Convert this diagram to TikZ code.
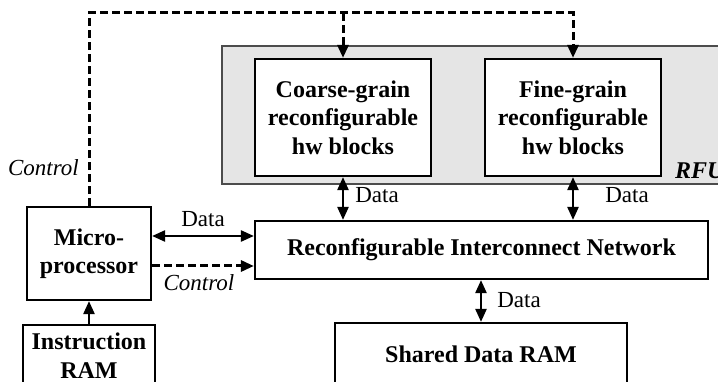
\documentclass[tikz,border=0pt]{standalone}
\usepackage{fontspec}
\setmainfont{Liberation Serif}
\usetikzlibrary{arrows.meta}
\begin{document}
\begin{tikzpicture}[x=1pt,y=-1pt,
 box/.style={draw, line width=2.2pt, fill=white, inner sep=0pt, align=center, font=\fontsize{24}{28.5}\selectfont\bfseries},
 lbl/.style={inner sep=0pt, font=\fontsize{23}{27}\selectfont},
 ilbl/.style={inner sep=0pt, font=\fontsize{23}{27}\selectfont\itshape},
 ctl/.style={line width=3pt, dash pattern=on 8pt off 4pt},
 dat/.style={line width=2.4pt},
 tip/.style={-{Triangle[length=13pt,width=11pt]}},
 tips/.style={{Triangle[length=13pt,width=11pt]}-{Triangle[length=13pt,width=11pt]}}
]
\useasboundingbox (0,0) rectangle (718,382);
\clip (0,0) rectangle (718,382);
\node[draw=black!70, fill=black!10, line width=1.4pt, minimum width=520pt, minimum height=138pt, inner sep=0pt] (rfu) at (482,115) {};
\node[anchor=base west, inner sep=0pt, font=\fontsize{24}{28.5}\selectfont\bfseries\itshape] (rfulbl) at (675,179) {RFU};

\node[box, minimum width=176pt, minimum height=117pt] (coarse) at (343,117.5) {Coarse-grain\\reconfigurable\\hw blocks};
\node[box, minimum width=176pt, minimum height=117pt] (fine) at (573,117.5) {Fine-grain\\reconfigurable\\hw blocks};
\node[box, minimum width=453pt, minimum height=58pt] (rin) at (481.5,250) {Reconfigurable Interconnect Network};
\node[box, minimum width=124pt, minimum height=93pt] (micro) at (89,253.5) {Micro-\\processor};
\node[box, minimum width=132pt, minimum height=61pt] (iram) at (89,355.5) {Instruction\\RAM};
\node[box, minimum width=292pt, minimum height=62pt] (sram) at (481,354) {Shared Data RAM};

\coordinate (tl) at (89,13);
\coordinate (tc) at (343,13);
\coordinate (tr) at (573,13);
\draw[ctl,tip] (micro.north) -- (tl) -- (tr) -- (fine.north);
\draw[ctl,tip] (tc) -- (coarse.north);

\draw[dat,tips] (coarse.south) -- (coarse.south |- rin.north);
\draw[dat,tips] (fine.south) -- (fine.south |- rin.north);
\draw[dat,tips] (sram.north |- rin.south) -- (sram.north);
\draw[dat,tips] ([yshift=17.5pt]micro.east) coordinate (d1) -- (d1 -| rin.west);
\draw[ctl,tip] ([yshift=-12.5pt]micro.east) coordinate (c1) -- (c1 -| rin.west);
\draw[dat,tip] (iram.north) -- (micro.south);

\node[lbl] (ld1) at (203,219.5) {Data};
\node[ilbl] (lc1) at (199,283) {Control};
\node[ilbl] (lc0) at (43.5,168) {Control};
\node[lbl] (ld2) at (377,195) {Data};
\node[lbl] (ld3) at (627,195) {Data};
\node[lbl] (ld4) at (519,300) {Data};
\end{tikzpicture}
\end{document}
